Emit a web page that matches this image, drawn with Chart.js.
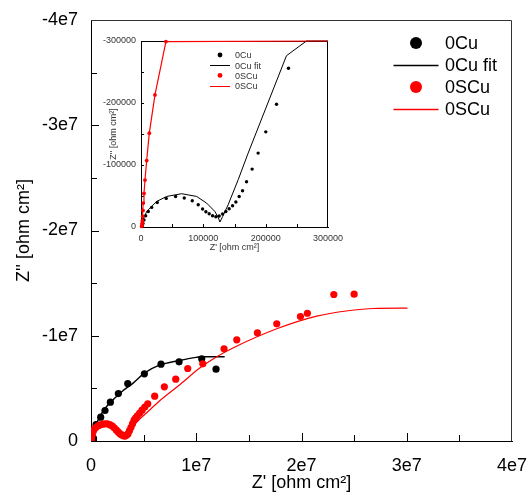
<!DOCTYPE html>
<html>
<head>
<meta charset="utf-8">
<script src="https://cdn.jsdelivr.net/npm/chart.js@4"></script>
<style>
  body { margin: 0; background: #fff; }
  #wrap { position: relative; width: 528px; height: 494px; }
  #mainChart { position: absolute; left: 0; top: 0; }
  #insetChart { position: absolute; left: 100px; top: 30px; }
</style>
</head>
<body>
<div id="wrap">
  <canvas id="mainChart" width="528" height="494"></canvas>
  <canvas id="insetChart" width="245" height="225"></canvas>
</div>
<script>
// values, Z' and Z'' in ohm cm2

// inset (high frequency part)
const insetCuZre = [2000, 3200, 4800, 7500, 11700, 17100, 26100, 40500, 55500, 69400, 82200, 91800, 98800, 104100, 109400, 114800, 120100, 125400, 130900, 136100, 141400, 146900, 152200, 157500, 162900, 169300, 178300, 187900, 200200, 217400, 236600];
const insetCuZim = [-2000, -5800, -11300, -18200, -25100, -31600, -39600, -46100, -49300, -46700, -42400, -35900, -29000, -24600, -21400, -18200, -16600, -17700, -20900, -25100, -29500, -34300, -40300, -49300, -58500, -73000, -93400, -119200, -153500, -198100, -256000];
const insetCuFitZre = [0, 2500, 9100, 25100, 41200, 65200, 89200, 105200, 118500, 124000, 126600, 131000, 139800, 155900, 171900, 233400, 265400, 300000];
const insetCuFitZim = [0, -10000, -25100, -41200, -49300, -53700, -49300, -38600, -25100, -15000, -8000, -17000, -35900, -76200, -119200, -276300, -300000, -300000];
const insetSCuZre = [1000, 1500, 1800, 2100, 2700, 3200, 3700, 4800, 6400, 9100, 13300, 22400, 40000];
const insetSCuZim = [-1000, -3000, -6000, -10100, -17100, -26700, -38600, -54100, -75700, -107200, -151400, -213000, -299000];
const insetSCuFitZre = [1000, 1500, 1800, 2100, 2700, 3200, 3700, 4800, 6400, 9100, 13300, 22400, 40000, 300000];
const insetSCuFitZim = [-1000, -3000, -6000, -10100, -17100, -26700, -38600, -54100, -75700, -107200, -151400, -213000, -299000, -300000];

// main plot
const cuZre = [4.8e5, 9.2e5, 1.33e6, 1.84e6, 2.6e6, 3.49e6, 5.07e6, 6.65e6, 8.37e6, 1.052e7, 1.188e7];
const cuZim = [-1.57e6, -2.26e6, -2.9e6, -3.69e6, -4.51e6, -5.46e6, -6.38e6, -7.3e6, -7.52e6, -7.81e6, -6.82e6];
const cuFitZre = [0, 2e5, 5.4e5, 1e6, 1.5e6, 2.12e6, 3e6, 4e6, 5.07e6, 6.5e6, 8.37e6, 1e7, 1.05e7, 1.27e7];
const cuFitZim = [0, -8e5, -1.7e6, -2.6e6, -3.3e6, -3.94e6, -4.75e6, -5.5e6, -6.45e6, -7.2e6, -7.65e6, -7.95e6, -8e6, -8e6];
const scuZre = [2e4, 6e4, 1e5, 1.6e5, 2.4e5, 3.5e5, 5e5, 6.8e5, 8.8e5, 1.1e6, 1.32e6, 1.55e6, 1.78e6, 2e6, 2.2e6, 2.4e6, 2.58e6, 2.75e6, 2.92e6, 3.08e6, 3.23e6, 3.38e6, 3.52e6, 3.66e6, 3.8e6, 3.95e6, 4.09e6, 4.23e6, 4.4e6, 4.62e6, 4.85e6, 5.11e6, 5.39e6, 6.05e6, 6.97e6, 8.05e6, 9.19e6, 1.062e7, 1.264e7, 1.385e7, 1.581e7, 1.765e7, 1.99e7, 2.056e7, 2.307e7, 2.5e7];
const scuZim = [-1e5, -3e5, -5.5e5, -8e5, -1e6, -1.18e6, -1.33e6, -1.45e6, -1.54e6, -1.6e6, -1.63e6, -1.62e6, -1.55e6, -1.43e6, -1.26e6, -1.05e6, -8.6e5, -7e5, -5.8e5, -5e5, -4.7e5, -5.5e5, -7e5, -1e6, -1.3e6, -1.65e6, -1.98e6, -2.18e6, -2.39e6, -2.66e6, -2.93e6, -3.23e6, -3.53e6, -4.26e6, -5.15e6, -5.87e6, -6.89e6, -7.33e6, -8.76e6, -9.61e6, -1.028e7, -1.113e7, -1.183e7, -1.214e7, -1.392e7, -1.395e7];
const scuFitZre = [0, 1e5, 3e5, 6e5, 1e6, 1.5e6, 2e6, 2.5e6, 2.9e6, 3.2e6, 3.5e6, 3.8e6, 4.02e6, 4.5e6, 5.29e6, 6.5e6, 8.46e6, 1.036e7, 1.195e7, 1.353e7, 1.765e7, 2.145e7, 2.462e7, 2.683e7, 3.007e7];
const scuFitZim = [0, -6e5, -1.1e6, -1.4e6, -1.55e6, -1.6e6, -1.4e6, -9.5e5, -6e5, -4.8e5, -6.5e5, -1e6, -1.41e6, -1.95e6, -2.68e6, -3.8e6, -5.37e6, -6.95e6, -8e6, -8.86e6, -1.066e7, -1.186e7, -1.24e7, -1.259e7, -1.262e7];

// tick labels
const xTickValues = [0, 1e7, 2e7, 3e7, 4e7];
const xTickLabels = ['0', '1e7', '2e7', '3e7', '4e7'];
const yTickValues = [0, -1e7, -2e7, -3e7, -4e7];
const yTickLabels = ['0', '-1e7', '-2e7', '-3e7', '-4e7'];
const insetXTickValues = [0, 100000, 200000, 300000];
const insetXTickLabels = ['0', '100000', '200000', '300000'];
const insetYTickValues = [0, -100000, -200000, -300000];
const insetYTickLabels = ['0', '-100000', '-200000', '-300000'];

const FONT = "'Liberation Sans', Arial, sans-serif";
Chart.defaults.font.family = FONT;
Chart.defaults.color = '#000';

function pts(xs, ys) {
  return xs.map((x, i) => ({ x: x, y: ys[i] }));
}

function labelFor(values, labels) {
  return v => {
    const i = values.findIndex(t => Math.abs(t - v) < 1);
    return i >= 0 ? labels[i] : '';
  };
}

// top and right edge of the box + inward tick marks
const framePlugin = {
  id: 'frame',
  beforeDatasetsDraw(chart, args, o) {
    const { ctx, chartArea: a, scales: { x, y } } = chart;
    ctx.save();
    ctx.strokeStyle = o.color;
    ctx.lineWidth = 1;
    ctx.beginPath();
    ctx.moveTo(a.left, a.top + 0.5);
    ctx.lineTo(a.right - 0.5, a.top + 0.5);
    ctx.lineTo(a.right - 0.5, a.bottom);
    ctx.stroke();

    ctx.strokeStyle = '#000';
    ctx.beginPath();
    x.ticks.forEach(t => {
      const px = Math.round(x.getPixelForValue(t.value)) + 0.5;
      if (px < a.left + 2 || px > a.right - 2) return;
      const len = t.label ? o.major : o.minor;
      ctx.moveTo(px, a.bottom);
      ctx.lineTo(px, a.bottom - len);
    });
    y.ticks.forEach(t => {
      const py = Math.round(y.getPixelForValue(t.value)) + 0.5;
      if (py < a.top + 2 || py > a.bottom - 2) return;
      const len = t.label ? o.major : o.minor;
      ctx.moveTo(a.left, py);
      ctx.lineTo(a.left + len, py);
    });
    ctx.stroke();
    ctx.restore();
  }
};

// legend drawn inside the plot, one row per dataset
const boxLegend = {
  id: 'boxLegend',
  afterDatasetsDraw(chart, args, o) {
    const ctx = chart.ctx;
    ctx.save();
    ctx.font = o.fontSize + 'px ' + FONT;
    ctx.textBaseline = 'middle';
    ctx.textAlign = 'left';
    chart.data.datasets.forEach((ds, i) => {
      const y = o.top + i * o.rowGap;
      if (ds.showLine) {
        ctx.strokeStyle = ds.borderColor;
        ctx.lineWidth = o.lineWidth;
        ctx.beginPath();
        ctx.moveTo(o.x - o.lineLen / 2, Math.round(y) + 0.5);
        ctx.lineTo(o.x + o.lineLen / 2, Math.round(y) + 0.5);
        ctx.stroke();
      } else {
        ctx.fillStyle = ds.backgroundColor;
        ctx.beginPath();
        ctx.arc(o.x, y, o.radius, 0, Math.PI * 2);
        ctx.fill();
      }
      ctx.fillStyle = o.textColor;
      ctx.fillText(ds.label, o.textX, y + 1);
    });
    ctx.restore();
  }
};

function axis(opts) {
  return {
    type: 'linear',
    min: opts.min,
    max: opts.max,
    reverse: !!opts.reverse,
    afterFit: s => {
      opts.fit(s);
      // the box is set by the layout padding, not by label overhang
      s.paddingLeft = 0;
      s.paddingRight = 0;
      s.paddingTop = 0;
      s.paddingBottom = 0;
    },
    border: { display: true, color: '#000', width: 1 },
    grid: { display: true, drawOnChartArea: false, drawTicks: false },
    ticks: {
      stepSize: opts.step,
      autoSkip: false,
      maxRotation: 0,
      padding: opts.pad,
      color: opts.color,
      font: { size: opts.size },
      callback: labelFor(opts.values, opts.labels)
    },
    title: { display: true, text: opts.title, color: opts.color, font: { size: opts.size }, padding: opts.titlePad }
  };
}

new Chart(document.getElementById('mainChart'), {
  type: 'scatter',
  data: {
    datasets: [
      { label: '0Cu', data: pts(insetCuZre.concat(cuZre), insetCuZim.concat(cuZim)), backgroundColor: '#000', borderColor: '#000', pointRadius: 3.6, pointBorderWidth: 0, order: 1 },
      { label: '0Cu fit', data: pts(cuFitZre, cuFitZim), showLine: true, borderColor: '#000', borderWidth: 1.4, pointRadius: 0, cubicInterpolationMode: 'monotone', order: 3 },
      { label: '0SCu', data: pts(insetSCuZre.concat(scuZre), insetSCuZim.concat(scuZim)), backgroundColor: '#ff0000', borderColor: '#ff0000', pointRadius: 3.6, pointBorderWidth: 0, order: 0 },
      { label: '0SCu', data: pts(scuFitZre, scuFitZim), showLine: true, borderColor: '#ff0000', borderWidth: 1.2, pointRadius: 0, cubicInterpolationMode: 'monotone', order: 2 }
    ]
  },
  options: {
    responsive: false,
    animation: false,
    devicePixelRatio: 1,
    layout: { padding: { top: 20, right: 16, left: 0, bottom: 0 } },
    plugins: {
      legend: { display: false },
      tooltip: { enabled: false },
      frame: { color: '#333', major: 8, minor: 6 },
      boxLegend: { x: 416, lineLen: 45, lineWidth: 1.3, textX: 445, top: 43, rowGap: 22, fontSize: 18, radius: 6, textColor: '#000' }
    },
    scales: {
      x: axis({ min: 0, max: 4e7, step: 5e6, pad: 14, size: 18, color: '#000', values: xTickValues, labels: xTickLabels,
        title: "Z' [ohm cm²]", titlePad: { top: 0, bottom: 0 }, fit: s => { s.height = 53; } }),
      y: axis({ min: -4e7, max: 0, reverse: true, step: 5e6, pad: 13, size: 18, color: '#000', values: yTickValues, labels: yTickLabels,
        title: "Z'' [ohm cm²]", titlePad: { top: 13, bottom: 0 }, fit: s => { s.width = 91; } })
    }
  },
  plugins: [framePlugin, boxLegend]
});

new Chart(document.getElementById('insetChart'), {
  type: 'scatter',
  data: {
    datasets: [
      { label: '0Cu', data: pts(insetCuZre, insetCuZim), backgroundColor: '#000', borderColor: '#000', pointRadius: 1.7, pointBorderWidth: 0, order: 1 },
      { label: '0Cu fit', data: pts(insetCuFitZre, insetCuFitZim), showLine: true, borderColor: '#000', borderWidth: 1, pointRadius: 0, clip: 3, order: 3 },
      { label: '0SCu', data: pts(insetSCuZre, insetSCuZim), backgroundColor: '#ff0000', borderColor: '#ff0000', pointRadius: 1.9, pointBorderWidth: 0, clip: 3, order: 0 },
      { label: '0SCu', data: pts(insetSCuFitZre, insetSCuFitZim), showLine: true, borderColor: '#ff0000', borderWidth: 1.2, pointRadius: 0, clip: 3, order: 2 }
    ]
  },
  options: {
    responsive: false,
    animation: false,
    devicePixelRatio: 1,
    layout: { padding: { top: 11, right: 17, left: 0, bottom: 0 } },
    plugins: {
      legend: { display: false },
      tooltip: { enabled: false },
      frame: { color: '#000', major: 3, minor: 3 },
      boxLegend: { x: 120, lineLen: 20, lineWidth: 1, textX: 135, top: 25, rowGap: 10.2, fontSize: 9, radius: 2.4, textColor: '#333' }
    },
    scales: {
      x: axis({ min: 0, max: 300000, step: 50000, pad: 6, size: 9, color: '#333', values: insetXTickValues, labels: insetXTickLabels,
        title: "Z' [ohm cm²]", titlePad: { top: 0, bottom: 2 }, fit: s => { s.height = 28; } }),
      y: axis({ min: -300000, max: 0, reverse: true, step: 50000, pad: 5, size: 9, color: '#333', values: insetYTickValues, labels: insetYTickLabels,
        title: "Z'' [ohm cm²]", titlePad: { top: 8, bottom: 0 }, fit: s => { s.width = 41; } })
    }
  },
  plugins: [framePlugin, boxLegend]
});
</script>
</body>
</html>
